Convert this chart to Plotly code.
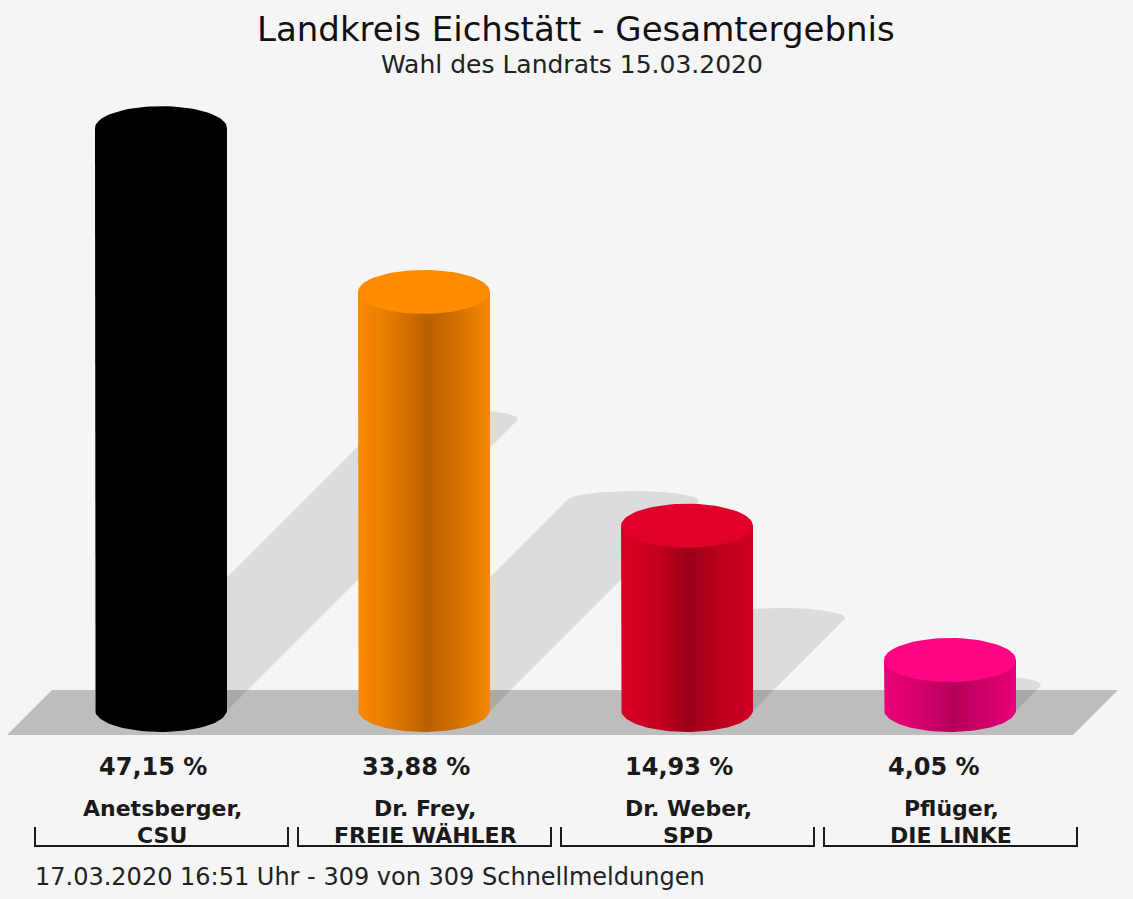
import numpy as np
import plotly.graph_objects as go

# ---------------- data ----------------
candidates = ["Anetsberger,", "Dr. Frey,", "Dr. Weber,", "Pflüger,"]
parties = ["CSU", "FREIE WÄHLER", "SPD", "DIE LINKE"]
shares = [47.15, 33.88, 14.93, 4.05]
share_labels = ["47,15 %", "33,88 %", "14,93 %", "4,05 %"]
top_colors = ["#000000", "#ff8c00", "#e0002a", "#ff0584"]
side_scales = [
    [[0, "#000000"], [1, "#000000"]],
    [[0, "#fa8a00"], [0.25, "#e47a00"], [0.52, "#b86000"], [0.75, "#d47000"], [1, "#f48a00"]],
    [[0, "#d80026"], [0.25, "#c8001f"], [0.52, "#9c0018"], [0.75, "#bc001e"], [1, "#d00024"]],
    [[0, "#ea007a"], [0.25, "#d8006c"], [0.52, "#b4005a"], [0.75, "#cc0066"], [1, "#e8007a"]],
]
title_text = "Landkreis Eichstätt - Gesamtergebnis"
subtitle_text = "Wahl des Landrats 15.03.2020"
footer_text = "17.03.2020 16:51 Uhr - 309 von 309 Schnellmeldungen"

# ---------------- geometry ----------------
W, H = 1133, 899
BASE_PX = 710.0
PX_PER_PCT = 12.34
X0_PX = 161.0
PX_PER_CAT = 263.0


def xd(px):
    return (px - X0_PX) / PX_PER_CAT


def yd(py):
    return (BASE_PX - py) / PX_PER_PCT


RX = 66 / PX_PER_CAT
RY = 22 / PX_PER_PCT
RYS = 10 / PX_PER_PCT
FONT = "DejaVu Sans"


def hull(pts):
    pts = sorted(set(pts))
    def cross(o, a, b):
        return (a[0] - o[0]) * (b[1] - o[1]) - (a[1] - o[1]) * (b[0] - o[0])
    lower, upper = [], []
    for p in pts:
        while len(lower) >= 2 and cross(lower[-2], lower[-1], p) <= 0:
            lower.pop()
        lower.append(p)
    for p in reversed(pts):
        while len(upper) >= 2 and cross(upper[-2], upper[-1], p) <= 0:
            upper.pop()
        upper.append(p)
    return lower[:-1] + upper[:-1]


fig = go.Figure()
t = np.linspace(0, 2 * np.pi, 73)

# shadows
for i, v in enumerate(shares):
    sx = 0.5 * v * PX_PER_PCT / PX_PER_CAT
    sy = 0.5 * v
    pts = []
    for (cx, cy) in [(i, 0.0), (i + sx, sy)]:
        for a in t:
            pts.append((round(cx + RX * np.cos(a), 6), round(cy + RYS * np.sin(a), 6)))
    hp = hull(pts)
    hp.append(hp[0])
    fig.add_trace(go.Scatter(
        x=[p[0] for p in hp], y=[p[1] for p in hp], mode="lines", fill="toself",
        fillcolor="rgba(0,0,0,0.1)", line=dict(width=0, color="rgba(0,0,0,0)"),
        hoverinfo="skip", showlegend=False))

# cylinders
arc = np.linspace(np.pi, 2 * np.pi, 49)
for i, v in enumerate(shares):
    bx = [i - RX, i - RX] + list(i + RX * np.cos(arc)) + [i + RX, i - RX]
    by = [v, 0] + list(RY * np.sin(arc)) + [v, v]
    fig.add_trace(go.Scatter(
        x=bx, y=by, mode="lines", fill="toself",
        fillgradient=dict(type="horizontal", colorscale=side_scales[i]),
        line=dict(width=0, color="rgba(0,0,0,0)"), hoverinfo="skip", showlegend=False))
    fig.add_trace(go.Scatter(
        x=list(i + RX * np.cos(t)), y=list(v + RY * np.sin(t)), mode="lines", fill="toself",
        fillcolor=top_colors[i], line=dict(width=0, color="rgba(0,0,0,0)"),
        hoverinfo="skip", showlegend=False))

shapes = []
# floor band
fx = [xd(7), xd(52), xd(1118), xd(1073)]
fy = [yd(735), yd(690), yd(690), yd(735)]
shapes.append(dict(type="path", xref="x", yref="y", layer="below",
                   path="M {} {} L {} {} L {} {} L {} {} Z".format(fx[0], fy[0], fx[1], fy[1], fx[2], fy[2], fx[3], fy[3]),
                   fillcolor="#bdbdbd", line=dict(width=0)))

annotations = []
for i in range(len(shares)):
    # bracket
    x0, x1 = i - 126 / PX_PER_CAT, i + 127 / PX_PER_CAT
    shapes.append(dict(type="path", xref="x", yref="y",
                       path="M {} {} L {} {} L {} {} L {} {}".format(x0, yd(827), x0, yd(846), x1, yd(846), x1, yd(827)),
                       line=dict(color="#1a1a1a", width=2)))
    annotations.append(dict(x=i - 64 / PX_PER_CAT, y=yd(767), xref="x", yref="y", text="<b>%s</b>" % share_labels[i],
                            showarrow=False, xanchor="left", yanchor="middle",
                            font=dict(family=FONT, size=24, color="#1a1a1a")))
    annotations.append(dict(x=i + 1 / PX_PER_CAT, y=yd(808), xref="x", yref="y", text="<b>%s</b>" % candidates[i],
                            showarrow=False, xanchor="center", yanchor="middle",
                            font=dict(family=FONT, size=22, color="#1a1a1a")))
    annotations.append(dict(x=i + 1 / PX_PER_CAT, y=yd(835), xref="x", yref="y", text="<b>%s</b>" % parties[i],
                            showarrow=False, xanchor="center", yanchor="middle",
                            font=dict(family=FONT, size=22, color="#1a1a1a")))

annotations.append(dict(x=xd(576), y=yd(29), xref="x", yref="y", text=title_text, showarrow=False,
                        xanchor="center", yanchor="middle", font=dict(family=FONT, size=34, color="#111111")))
annotations.append(dict(x=xd(572), y=yd(64), xref="x", yref="y", text=subtitle_text, showarrow=False,
                        xanchor="center", yanchor="middle", font=dict(family=FONT, size=25, color="#222222")))
annotations.append(dict(x=xd(33), y=yd(877), xref="x", yref="y", text=footer_text, showarrow=False,
                        xanchor="left", yanchor="middle", font=dict(family=FONT, size=24, color="#222222")))

fig.update_layout(
    width=W, height=H, margin=dict(l=0, r=0, t=0, b=0, pad=0),
    paper_bgcolor="#f5f5f5", plot_bgcolor="#f5f5f5",
    xaxis=dict(range=[xd(0), xd(W)], visible=False, fixedrange=True),
    yaxis=dict(range=[yd(H), yd(0)], visible=False, fixedrange=True),
    shapes=shapes, annotations=annotations, showlegend=False,
)

fig.write_html("out.html", config={"displayModeBar": False},
               post_script="document.body.style.margin='0';document.body.style.overflow='hidden';"
                           "document.body.style.background='#f5f5f5';")
